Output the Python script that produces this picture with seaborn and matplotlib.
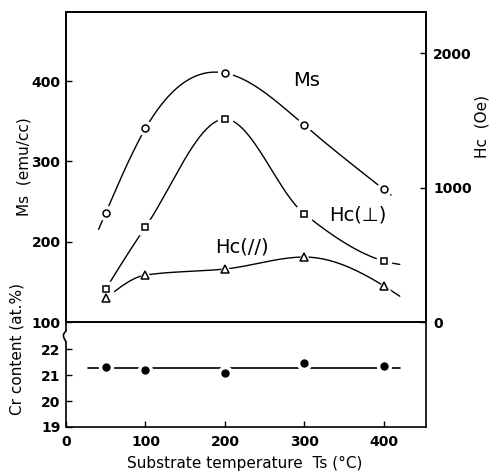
import numpy as np
import matplotlib
matplotlib.use("Agg")
import matplotlib.pyplot as plt
import seaborn as sns

# Substrate temperature (deg C)
temps = np.array([50, 100, 200, 300, 400])
# Saturation magnetisation (emu/cc)
ms_vals = np.array([236, 341, 410, 345, 265])
# Coercivity perpendicular / in-plane (Oe)
hc_perp = np.array([245, 706, 1509, 803, 453])
hc_par = np.array([178, 349, 394, 483, 268])
# Cr content (at.%)
cr_vals = np.array([21.30, 21.19, 21.08, 21.46, 21.35])

x_ticks = [0, 100, 200, 300, 400]
ms_ticks = [100, 200, 300, 400]
hc_ticks = [0, 1000, 2000]
cr_ticks = [19, 20, 21, 22]

sns.set_style("ticks")
plt.rcParams["font.family"] = ["DejaVu Sans"]
plt.rcParams["axes.linewidth"] = 1.2
for key in ("text.color", "axes.labelcolor", "axes.edgecolor",
            "xtick.color", "ytick.color"):
    plt.rcParams[key] = "black"


def natural_spline(x, y, xs):
    """Natural cubic spline through (x, y), evaluated at xs."""
    x = np.asarray(x, float)
    y = np.asarray(y, float)
    n = len(x)
    h = np.diff(x)
    A = np.zeros((n, n))
    r = np.zeros(n)
    A[0, 0] = A[-1, -1] = 1.0
    for i in range(1, n - 1):
        A[i, i - 1] = h[i - 1]
        A[i, i] = 2 * (h[i - 1] + h[i])
        A[i, i + 1] = h[i]
        r[i] = 3 * ((y[i + 1] - y[i]) / h[i] - (y[i] - y[i - 1]) / h[i - 1])
    c = np.linalg.solve(A, r)
    b = (y[1:] - y[:-1]) / h - h * (2 * c[:-1] + c[1:]) / 3
    d = (c[1:] - c[:-1]) / (3 * h)
    idx = np.clip(np.searchsorted(x, xs) - 1, 0, n - 2)
    dx = xs - x[idx]
    return y[idx] + b[idx] * dx + c[idx] * dx ** 2 + d[idx] * dx ** 3


def pchip(x, y, xs):
    """Shape-preserving cubic (Fritsch-Carlson) through (x, y), at xs."""
    x = np.asarray(x, float)
    y = np.asarray(y, float)
    n = len(x)
    h = np.diff(x)
    delta = np.diff(y) / h
    m = np.zeros(n)
    for k in range(1, n - 1):
        if delta[k - 1] * delta[k] > 0:
            w1 = 2 * h[k] + h[k - 1]
            w2 = h[k] + 2 * h[k - 1]
            m[k] = (w1 + w2) / (w1 / delta[k - 1] + w2 / delta[k])
    m[0] = ((2 * h[0] + h[1]) * delta[0] - h[0] * delta[1]) / (h[0] + h[1])
    if np.sign(m[0]) != np.sign(delta[0]):
        m[0] = 0
    m[-1] = ((2 * h[-1] + h[-2]) * delta[-1] - h[-1] * delta[-2]) / (h[-1] + h[-2])
    if np.sign(m[-1]) != np.sign(delta[-1]):
        m[-1] = 0
    idx = np.clip(np.searchsorted(x, xs) - 1, 0, n - 2)
    t = (xs - x[idx]) / h[idx]
    h00 = 2 * t ** 3 - 3 * t ** 2 + 1
    h10 = t ** 3 - 2 * t ** 2 + t
    h01 = -2 * t ** 3 + 3 * t ** 2
    h11 = t ** 3 - t ** 2
    return (h00 * y[idx] + h10 * h[idx] * m[idx]
            + h01 * y[idx + 1] + h11 * h[idx] * m[idx + 1])


W, H = 490, 471
fig = plt.figure(figsize=(W / 100, H / 100), dpi=100)
ax_top = fig.add_axes([66 / W, 1 - 322 / H, 360 / W, 310 / H])
ax_hc = ax_top.twinx()
ax_cr = fig.add_axes([66 / W, 1 - 427 / H, 360 / W, 105 / H])

XMAX = 453
tick_font = dict(fontsize=10, fontweight="bold")


def curve(ax, x, y, x0, x1, marker, ms, interp):
    xs = np.linspace(x0, x1, 300)
    sns.lineplot(x=xs, y=interp(x, y, xs), ax=ax, color="black",
                 lw=1.0, zorder=2, estimator=None, sort=False)
    ax.plot(x, y, ls="none", marker=marker, ms=ms + 5, mfc="white",
            mec="white", zorder=3)
    ax.plot(x, y, ls="none", marker=marker, ms=ms, mfc="white",
            mec="black", mew=1.1, zorder=4)


# Upper panel: Ms on the left axis, Hc on the right axis
curve(ax_top, temps, ms_vals, 41, 409, "o", 5, natural_spline)
curve(ax_hc, temps, hc_perp, 50, 420, "s", 5, pchip)
curve(ax_hc, temps, hc_par, 50, 420, "^", 5.5, pchip)

ax_top.set_xlim(0, XMAX)
ax_top.set_ylim(100, 486)
ax_top.set_yticks(ms_ticks)
ax_top.set_yticklabels([str(t) for t in ms_ticks], **tick_font)
ax_top.tick_params(axis="x", bottom=False, labelbottom=False)
ax_top.tick_params(axis="y", direction="in", length=4, width=1, pad=4)

ax_hc.set_ylim(0, 2305)
ax_hc.set_yticks(hc_ticks)
ax_hc.set_yticklabels([str(t) for t in hc_ticks], **tick_font)
ax_hc.tick_params(axis="y", direction="in", length=4, width=1, pad=5)
ax_hc.tick_params(axis="x", bottom=False, labelbottom=False)
for a in (ax_top, ax_hc):
    a.set_xlabel("")
    a.set_ylabel("")
    for s in a.spines.values():
        s.set_visible(True)
        s.set_linewidth(1.2)

ax_top.text(303, 401, "Ms", fontsize=14, ha="center", va="center")
ax_top.text(367, 233, "Hc(⊥)", fontsize=14, ha="center", va="center")
ax_top.text(221, 193, "Hc(//)", fontsize=14, ha="center", va="center")

# Lower panel: Cr content
cr_mean = cr_vals.mean()
span = np.array([temps[0] - 22, temps[-1] + 20])
sns.lineplot(x=span, y=[cr_mean, cr_mean], ax=ax_cr, color="black", lw=1.2,
             zorder=2, estimator=None)
ax_cr.plot(temps, cr_vals, ls="none", marker="o", ms=10, mfc="white",
           mec="white", zorder=3)
ax_cr.plot(temps, cr_vals, ls="none", marker="o", ms=5, mfc="black",
           mec="black", zorder=4)

ax_cr.set_xlim(0, XMAX)
ax_cr.set_ylim(19, 23.04)
ax_cr.set_xticks(x_ticks)
ax_cr.set_xticklabels([str(t) for t in x_ticks], **tick_font)
ax_cr.set_yticks(cr_ticks)
ax_cr.set_yticklabels([str(t) for t in cr_ticks], **tick_font)
ax_cr.tick_params(axis="both", direction="in", length=4, width=1)
ax_cr.tick_params(axis="x", pad=6)
ax_cr.tick_params(axis="y", pad=4)
ax_cr.set_xlabel("")
ax_cr.set_ylabel("")
ax_cr.patch.set_alpha(0)
ax_cr.spines["top"].set_visible(False)
ax_cr.spines["right"].set_visible(True)
ax_cr.spines["left"].set_visible(False)
for s in ("bottom", "right"):
    ax_cr.spines[s].set_linewidth(1.2)


# Left spine of the lower panel with a scale-break kink
def px_y(py):
    return (427 - py) / 105


t = np.linspace(0, 1, 30)
kink_y = px_y(331 + 11 * t)
kink_x = -3.5 * np.sin(np.pi * t) * (1 - 0.6 * t) / 360
ax_cr.plot([0, 0], [0, px_y(342)], color="black", lw=1.2,
           transform=ax_cr.transAxes, clip_on=False, solid_capstyle="butt")
ax_cr.plot(kink_x, kink_y, color="black", lw=1.2,
           transform=ax_cr.transAxes, clip_on=False)
ax_cr.plot([0, 0], [px_y(331), 1], color="black", lw=1.2,
           transform=ax_cr.transAxes, clip_on=False, solid_capstyle="butt")

# Axis titles
label_font = dict(fontsize=11, ha="center", va="center")
fig.text(24 / W, 1 - 167 / H, "Ms  (emu/cc)", rotation=90, **label_font)
fig.text(482 / W, 1 - 127 / H, "Hc  (Oe)", rotation=90, **label_font)
fig.text(17 / W, 1 - 349 / H, "Cr content (at.%)", rotation=90, **label_font)
fig.text(245 / W, 1 - 463 / H, "Substrate temperature  Ts (°C)", **label_font)

fig.savefig("out.png", dpi=100)
